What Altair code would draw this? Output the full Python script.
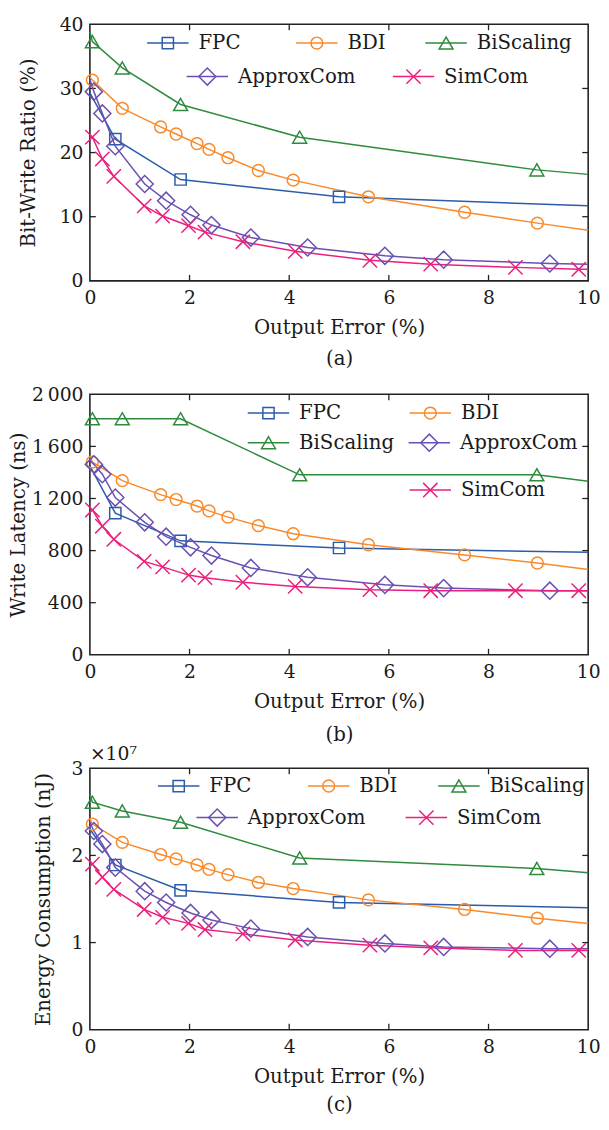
import altair as alt
import pandas as pd

SERIES = ["FPC", "BDI", "BiScaling", "ApproxCom", "SimCom"]
COLORS = ["#2b5caa", "#f98a2a", "#2e8b3e", "#6a50b2", "#ec1f7c"]
SHAPES = ["square", "circle", "triangle-up", "diamond", "M-1,-1L1,1M-1,1L1,-1"]
SIZES = [130, 144, 200, 300, 210]

X_TICKS = [0, 2, 4, 6, 8, 10]
X_ENDS = [0, 10]

# Output error (%) at the marker points of each scheme
fpc_x = [0.51, 1.82, 5.0]
bdi_x = [0.05, 0.65, 1.42, 1.73, 2.15, 2.39, 2.77, 3.38, 4.08, 5.59, 7.52, 8.98]
bis_x = [0.05, 0.65, 1.82, 4.21, 8.97]
apx_x = [0.08, 0.25, 0.51, 1.10, 1.53, 2.02, 2.44, 3.23, 4.37, 5.92, 7.10, 9.23]
sim_x = [0.05, 0.25, 0.48, 1.09, 1.46, 1.98, 2.31, 3.07, 4.12, 5.62, 6.84, 8.54, 9.81]

# (a) Bit-write ratio (%)
a_fpc = [22.1, 15.8, 13.1]
a_bdi = [31.3, 26.9, 24.0, 22.9, 21.4, 20.5, 19.2, 17.2, 15.7, 13.1, 10.7, 9.0]
a_bis = [37.3, 33.2, 27.5, 22.4, 17.3]
a_apx = [29.5, 26.1, 21.0, 15.1, 12.5, 10.3, 8.7, 6.75, 5.2, 3.9, 3.3, 2.7]
a_sim = [22.4, 19.0, 16.3, 11.7, 10.1, 8.6, 7.6, 6.1, 4.6, 3.2, 2.6, 2.1, 1.8]
a_ends = [[29.3, 11.7], [31.8, 7.9], [38.8, 16.6], [31.4, 2.6], [22.8, 1.8]]
a_yticks = [0, 10, 20, 30, 40]

# (b) Write latency (ns)
b_fpc = [1087, 875, 820]
b_bdi = [1480, 1337, 1230, 1192, 1142, 1105, 1057, 992, 930, 845, 767, 705]
b_bis = [1812, 1812, 1812, 1382, 1382]
b_apx = [1462, 1387, 1207, 1017, 907, 825, 762, 667, 595, 537, 512, 492]
b_sim = [1112, 987, 887, 717, 675, 612, 592, 557, 525, 500, 492, 492, 492]
b_ends = [[1450, 787], [1530, 655], [1812, 1332], [1492, 492], [1125, 492]]
b_yticks = [0, 400, 800, 1200, 1600, 2000]

# (c) Energy consumption (x1e7 nJ)
c_fpc = [1.89, 1.60, 1.46]
c_bdi = [2.36, 2.15, 2.01, 1.96, 1.89, 1.84, 1.78, 1.69, 1.62, 1.49, 1.38, 1.28]
c_bis = [2.61, 2.51, 2.38, 1.97, 1.85]
c_apx = [2.28, 2.13, 1.86, 1.59, 1.46, 1.34, 1.26, 1.16, 1.065, 0.99, 0.95, 0.93]
c_sim = [1.90, 1.75, 1.61, 1.38, 1.29, 1.22, 1.15, 1.10, 1.03, 0.97, 0.94, 0.91, 0.91]
c_ends = [[2.30, 1.40], [2.42, 1.22], [2.70, 1.80], [2.38, 0.93], [1.94, 0.91]]
c_yticks = [0, 1, 2, 3]

MARKER_X = [fpc_x, bdi_x, bis_x, apx_x, sim_x]

W = 505
FONT = "DejaVu Serif"
TXT = "#1a1a1a"
FRAME = "#222222"
TICK = 6


def panel(vals, ends, ymax, yticks, ytitle, caption, H, title_x, cap_lh,
          legend, label_expr=None, exponent=False):
    xs = alt.Scale(domain=[0, 10], nice=False, zero=False)
    ys = alt.Scale(domain=[0, ymax], nice=False, zero=True)

    yaxis_kw = dict(values=yticks, title=ytitle, titleX=title_x, ticks=False,
                    domain=False, grid=False, labelPadding=7)
    if label_expr:
        yaxis_kw["labelExpr"] = label_expr
    xaxis = alt.Axis(values=X_TICKS, title=["Output Error (%)", caption], titleY=37,
                     titleLineHeight=cap_lh, ticks=False, domain=False, grid=False,
                     labelPadding=8, labelFlush=False)
    yaxis = alt.Axis(**yaxis_kw)

    def X(f):
        return alt.X(f, scale=xs, axis=xaxis)

    def Y(f):
        return alt.Y(f, scale=ys, axis=yaxis)

    layers = []
    xt = pd.DataFrame({"t": X_TICKS[1:-1]})
    yt = pd.DataFrame({"t": yticks[1:-1]})
    for y0, y1 in [(H, H - TICK), (0, TICK)]:
        layers.append(alt.Chart(xt).mark_rule(color=FRAME, strokeWidth=1.3).encode(
            x=X("t:Q"), y=alt.value(y0), y2=alt.value(y1)))
    for x0, x1 in [(0, TICK), (W, W - TICK)]:
        layers.append(alt.Chart(yt).mark_rule(color=FRAME, strokeWidth=1.3).encode(
            y=Y("t:Q"), x=alt.value(x0), x2=alt.value(x1)))

    for i, name in enumerate(SERIES):
        lx = [X_ENDS[0]] + MARKER_X[i] + [X_ENDS[1]]
        ly = [ends[i][0]] + vals[i] + [ends[i][1]]
        df = pd.DataFrame({"x": lx, "y": ly})
        layers.append(alt.Chart(df).mark_line(color=COLORS[i], strokeWidth=1.5).encode(
            x=X("x:Q"), y=Y("y:Q")))
    for i, name in enumerate(SERIES):
        df = pd.DataFrame({"x": MARKER_X[i], "y": vals[i]})
        layers.append(alt.Chart(df).mark_point(
            shape=SHAPES[i], size=SIZES[i], filled=False, color=COLORS[i],
            strokeWidth=1.5, opacity=1).encode(x=X("x:Q"), y=Y("y:Q")))

    for i, name in enumerate(SERIES):
        px, py = legend[i]
        d = pd.DataFrame({"s": [name]})
        layers.append(alt.Chart(d).mark_rule(color=COLORS[i], strokeWidth=1.5).encode(
            x=alt.value(px), x2=alt.value(px + 42), y=alt.value(py)))
        layers.append(alt.Chart(d).mark_point(
            shape=SHAPES[i], size=SIZES[i], filled=False, color=COLORS[i],
            strokeWidth=1.5, opacity=1).encode(x=alt.value(px + 21), y=alt.value(py)))
        layers.append(alt.Chart(d).mark_text(
            align="left", baseline="middle", font=FONT, fontSize=20, color=TXT).encode(
            x=alt.value(px + 52), y=alt.value(py), text="s:N"))

    if exponent:
        d = pd.DataFrame({"s": ["\u00d710\u2077"]})
        layers.append(alt.Chart(d).mark_text(
            align="left", baseline="middle", font=FONT, fontSize=19, color=TXT).encode(
            x=alt.value(0), y=alt.value(-14), text="s:N"))

    return alt.layer(*layers).properties(width=W, height=H)


pa = panel([a_fpc, a_bdi, a_bis, a_apx, a_sim], a_ends, 40, a_yticks,
           "Bit-Write Ratio (%)", "(a)", 260, -52, 32,
           [(58, 19), (209, 19), (340, 19), (98, 53), (307, 53)])
pb = panel([b_fpc, b_bdi, b_bis, b_apx, b_sim], b_ends, 2000, b_yticks,
           "Write Latency (ns)", "(b)", 264, -62, 34,
           [(160, 19), (324, 19), (160, 49), (323, 49), (324, 97)],
           label_expr="replace(format(datum.value, ','), ',', '\u2009')")
pc = panel([c_fpc, c_bdi, c_bis, c_apx, c_sim], c_ends, 3, c_yticks,
           "Energy Consumption (nJ)", "(c)", 265, -37, 29,
           [(69, 18), (221, 18), (353, 18), (108, 50), (320, 50)], exponent=True)

chart = alt.vconcat(pa, pb, pc, spacing=115, bounds="flush").properties(
    padding={"left": 0, "top": -1, "right": 0, "bottom": 0},
    background="white",
).configure_view(stroke=FRAME, strokeWidth=1.6).configure_axis(
    labelFont=FONT, titleFont=FONT, labelFontSize=19, titleFontSize=20,
    labelColor=TXT, titleColor=TXT, titleFontWeight="normal",
    grid=False, ticks=False, domain=False
)

chart.save("out.html", embed_options={"renderer": "svg", "actions": False})
